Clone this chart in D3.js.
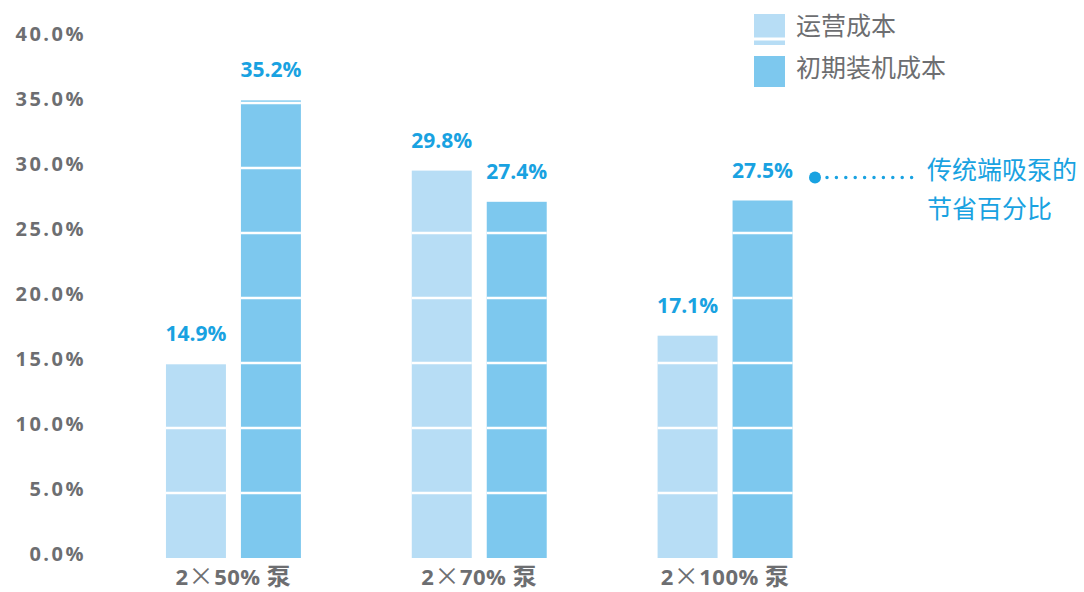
<!DOCTYPE html>
<html>
<head>
<meta charset="utf-8">
<script src="https://cdn.jsdelivr.net/npm/d3@7"></script>
<style>
  html, body { margin: 0; padding: 0; background: #fff; }
  svg { display: block; font-family: "Open Sans", "Noto Sans CJK SC", sans-serif; }
</style>
</head>
<body>
<svg id="chart" width="1084" height="592"></svg>
<script>
// ---- data ----
const categories = ["2×50% 泵", "2×70% 泵", "2×100% 泵"];
const seriesNames = ["运营成本", "初期装机成本"];
const operatingCost = [14.9, 29.8, 17.1];
const initialCost = [35.2, 27.4, 27.5];
const yTicks = [0, 5, 10, 15, 20, 25, 30, 35, 40];
const annotationLines = ["传统端吸泵的", "节省百分比"];

const colors = ["#b7ddf5", "#7dc8ee"];
const blue = "#19a2e1";
const grey = "#6d6e71";

const rows = categories.map((c, i) => ({ cat: c, vals: [operatingCost[i], initialCost[i]] }));

const svg = d3.select("#chart");

const x0 = d3.scaleBand().domain(categories).range([110.5, 848]).paddingInner(0.451).paddingOuter(0.2256);
const x1 = d3.scaleBand().domain(seriesNames).range([0, x0.bandwidth()]).paddingInner(0.2).paddingOuter(0);
const y = d3.scaleLinear().domain([0, 40]).range([558, 38]);

const barData = d => d.vals.map((v, k) => ({ v, k, name: seriesNames[k] }));

// bars
const groups = svg.append("g").selectAll("g").data(rows).join("g")
  .attr("transform", d => `translate(${x0(d.cat)},0)`);

const barG = groups.selectAll("g.bar").data(barData).join("g").attr("class", "bar");

barG.append("rect")
  .attr("x", d => x1(d.name))
  .attr("width", x1.bandwidth())
  .attr("y", d => y(d.v))
  .attr("height", d => y(0) - y(d.v))
  .attr("fill", d => colors[d.k]);

// white gridlines inside each bar
barG.selectAll("line").data(d => yTicks.filter(t => t > 0 && t < d.v).map(t => ({ t, d })))
  .join("line")
  .attr("x1", o => x1(o.d.name)).attr("x2", o => x1(o.d.name) + x1.bandwidth())
  .attr("y1", o => y(o.t)).attr("y2", o => y(o.t))
  .attr("stroke", "#fff").attr("stroke-width", 2.5);

// value labels
groups.selectAll("text.val").data(barData)
  .join("text").attr("class", "val")
  .attr("x", d => x1(d.name) + x1.bandwidth() / 2)
  .attr("y", d => y(d.v) - 23)
  .attr("text-anchor", "middle")
  .attr("fill", blue)
  .attr("font-size", 21).attr("font-weight", 700)
  .text(d => d.v.toFixed(1) + "%");

// y axis
const yAxis = svg.append("g").attr("transform", "translate(86,0)")
  .call(d3.axisLeft(y).tickValues(yTicks).tickSize(0).tickPadding(0).tickFormat(d => d.toFixed(1) + "%"));
yAxis.select(".domain").remove();
yAxis.selectAll("text")
  .attr("fill", grey).attr("font-size", 20).attr("font-weight", 700)
  .attr("letter-spacing", "2.5px")
  .attr("font-family", "'Open Sans', sans-serif")
  .attr("dy", "0.32em")
  .attr("y", -4);

// x axis
const xAxis = svg.append("g").attr("transform", "translate(0,558)")
  .call(d3.axisBottom(x0).tickSize(0).tickPadding(0));
xAxis.select(".domain").remove();
xAxis.selectAll("text")
  .attr("fill", grey).attr("font-size", 22).attr("font-weight", 700)
  .attr("font-family", "'Open Sans', 'Noto Sans CJK SC', sans-serif")
  .attr("letter-spacing", "0.5px")
  .attr("dy", 0).attr("y", 27)
  .each(function(d) {
    const t = d3.select(this);
    const parts = d.split("×");
    t.text(null);
    t.append("tspan").text(parts[0]);
    t.append("tspan").attr("font-weight", 400).attr("font-size", 25)
      .attr("font-family", "'Noto Sans CJK SC', sans-serif").text("×");
    t.append("tspan").text(parts[1].replace(" 泵", " "));
    t.append("tspan").attr("font-family", "'Noto Sans CJK SC', sans-serif").attr("font-size", 24).text("泵");
  });

// legend
const legend = svg.append("g").attr("transform", "translate(754,14)");
seriesNames.forEach((name, k) => {
  const g = legend.append("g").attr("transform", `translate(0,${k * 42})`);
  g.append("rect").attr("width", 31).attr("height", 31).attr("fill", colors[k]);
  if (k === 0) g.append("line").attr("x1", 0).attr("x2", 31).attr("y1", 25).attr("y2", 25)
    .attr("stroke", "#fff").attr("stroke-width", 3);
  g.append("text").attr("x", 42).attr("y", 12).attr("dy", "0.35em")
    .attr("fill", grey).attr("font-size", 25)
    .attr("font-family", "'Noto Sans CJK SC', sans-serif").text(name);
});

// annotation
const ann = svg.append("g");
ann.append("circle").attr("cx", 815).attr("cy", 177.5).attr("r", 6).attr("fill", blue);
ann.append("line").attr("x1", 827).attr("x2", 913).attr("y1", 177.5).attr("y2", 177.5)
  .attr("stroke", blue).attr("stroke-width", 3.5).attr("stroke-linecap", "round")
  .attr("stroke-dasharray", "0 9.4");
ann.selectAll("text").data(annotationLines).join("text")
  .attr("x", 927).attr("y", (d, i) => 170 + i * 39).attr("dy", "0.35em")
  .attr("fill", blue).attr("font-size", 25)
  .attr("font-family", "'Noto Sans CJK SC', sans-serif")
  .text(d => d);
</script>
</body>
</html>
